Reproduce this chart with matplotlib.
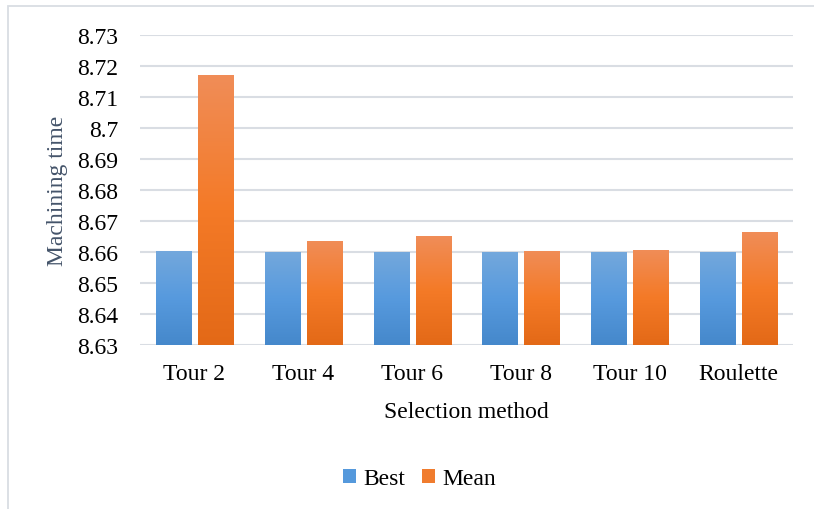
import numpy as np
import matplotlib
matplotlib.use("Agg")
import matplotlib.pyplot as plt
from matplotlib.colors import LinearSegmentedColormap
from matplotlib.patches import Rectangle

# Data
categories = ["Tour 2", "Tour 4", "Tour 6", "Tour 8", "Tour 10", "Roulette"]
best = [8.6604, 8.6601, 8.6601, 8.6601, 8.6601, 8.6601]
mean = [8.7172, 8.6637, 8.6651, 8.6604, 8.6607, 8.6663]
series_names = ["Best", "Mean"]
y_ticks = [8.63, 8.64, 8.65, 8.66, 8.67, 8.68, 8.69, 8.70, 8.71, 8.72, 8.73]
y_tick_labels = ["8.63", "8.64", "8.65", "8.66", "8.67", "8.68", "8.69", "8.7",
                 "8.71", "8.72", "8.73"]
x_title = "Selection method"
y_title = "Machining time"

plt.rcParams["font.family"] = ["Liberation Serif", "DejaVu Serif"]
FS = 17

W, H = 814, 510
fig = plt.figure(figsize=(W / 100, H / 100), dpi=100)
ax = fig.add_axes([140 / W, 1 - 346 / H, (793 - 140) / W, (346 - 36) / H])

ymin, ymax = y_ticks[0], y_ticks[-1]

# Gradient fills (light top, base middle, dark bottom)
blue_cmap = LinearSegmentedColormap.from_list(
    "blue_grad", ["#4588cb", "#579ade", "#74a8dc"])
orange_cmap = LinearSegmentedColormap.from_list(
    "orange_grad", ["#e36917", "#f47a27", "#f08d58"])
swatch = {"Best": "#5599dc", "Mean": "#f07c2e"}

x = np.arange(len(categories))
width = 0.322
offset = 0.193
grad = np.linspace(0, 1, 256).reshape(-1, 1)

for vals, sign, cmap, name in [(best, -1, blue_cmap, "Best"),
                                (mean, 1, orange_cmap, "Mean")]:
    heights = np.array(vals) - ymin
    bars = ax.bar(x + sign * offset, heights, width, bottom=ymin,
                  color="none", edgecolor="none", zorder=3, label=name)
    for b in bars:
        x0, y0 = b.get_x(), b.get_y()
        x1, y1 = x0 + b.get_width(), y0 + b.get_height()
        im = ax.imshow(grad, cmap=cmap, aspect="auto", origin="lower",
                       extent=[x0, x1, y0, y1], zorder=3,
                       interpolation="bilinear")
        im.set_clip_path(b)
ax.set_xlim(-0.5, len(categories) - 0.5)
ax.set_ylim(ymin, ymax)

# Gridlines
grid_color = "#d9dde3"
for t in y_ticks:
    ax.axhline(t, color=grid_color, lw=1.5, zorder=1)

for s in ax.spines.values():
    s.set_visible(False)

ax.set_yticks(y_ticks)
ax.set_yticklabels(y_tick_labels)
ax.set_xticks(x)
ax.set_xticklabels(categories)
ax.tick_params(axis="both", length=0, labelsize=FS, colors="#000000")
ax.tick_params(axis="x", pad=13.3)
ax.tick_params(axis="y", pad=15.8)

fig.text(466.5 / W, 1 - 418 / H, x_title, ha="center", va="baseline",
         fontsize=FS, color="#000000")
fig.text(58 / W, 1 - 191 / H, y_title, ha="center", va="center",
         rotation=90, fontsize=FS, color="#44546a")

handles = [Rectangle((0, 0), 1, 1, facecolor=swatch[n], edgecolor="none")
           for n in series_names]
fig.legend(handles, series_names, loc="center",
           bbox_to_anchor=(419.5 / W, 1 - 479.5 / H), ncol=2, frameon=False,
           fontsize=FS, handlelength=0.55, handleheight=0.55,
           handletextpad=0.3, columnspacing=0.75, borderpad=0, borderaxespad=0)

# Chart border
fig.patches.append(Rectangle((8 / W, -0.1), 1.0, 1 - 7 / H + 0.1,
                             transform=fig.transFigure, fill=False,
                             edgecolor="#d9dde3", lw=1.3, zorder=0))

fig.savefig("out.png", dpi=100, facecolor="white")
